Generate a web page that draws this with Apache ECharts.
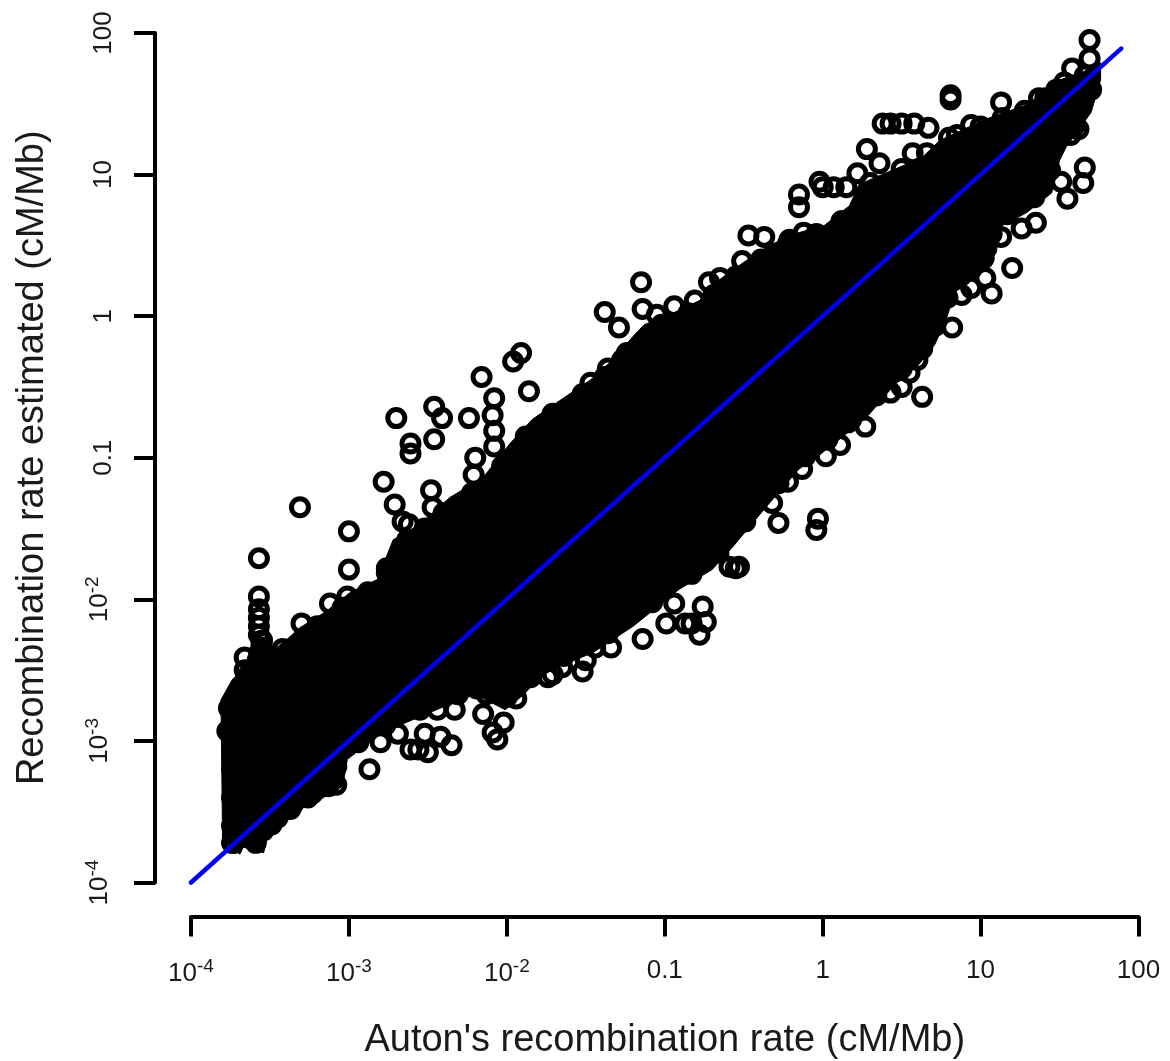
<!DOCTYPE html>
<html>
<head>
<meta charset="utf-8">
<style>html,body{margin:0;padding:0;background:#fff}#c{width:1170px;height:1061px}</style>
<script src="https://cdn.jsdelivr.net/npm/echarts@6/dist/echarts.min.js"></script>
</head>
<body>
<div id="c"></div>
<script>
// All values, as log10(cM/Mb) pairs [Auton, estimated].
const xTitle = "Auton's recombination rate (cM/Mb)";
const yTitle = "Recombination rate estimated (cM/Mb)";

// upper edge of the solid cloud, left to right
const cloudUpper = [[-3.80,-3.70],[-3.81,-2.71],[-3.74,-2.57],[-3.66,-2.48],[-3.62,-2.33],[-3.62,-2.27],[-3.50,-2.27],[-3.48,-2.36],[-3.40,-2.29],[-3.31,-2.20],[-3.15,-2.09],[-2.99,-1.95],[-2.82,-1.86],[-2.77,-1.72],[-2.72,-1.58],[-2.61,-1.51],[-2.50,-1.42],[-2.36,-1.28],[-2.15,-1.14],[-1.98,-0.90],[-1.84,-0.73],[-1.63,-0.57],[-1.47,-0.45],[-1.34,-0.32],[-1.19,-0.13],[-1.13,-0.06],[-0.97,0.01],[-0.78,0.11],[-0.65,0.26],[-0.50,0.38],[-0.34,0.50],[-0.15,0.59],[0.01,0.64],[0.17,0.78],[0.23,0.93],[0.44,1.03],[0.63,1.12],[0.74,1.24],[1.03,1.39],[1.31,1.50],[1.45,1.65],[1.64,1.72],[1.76,1.79]];
// lower edge of the solid cloud, right to left
const cloudLower = [[1.76,1.67],[1.70,1.44],[1.54,1.19],[1.50,1.10],[1.45,0.87],[1.29,0.73],[1.12,0.63],[1.10,0.45],[0.99,0.28],[0.85,0.21],[0.78,-0.03],[0.71,-0.20],[0.61,-0.34],[0.45,-0.49],[0.29,-0.70],[0.14,-0.84],[-0.02,-0.98],[-0.15,-1.08],[-0.36,-1.35],[-0.57,-1.63],[-0.70,-1.79],[-0.91,-1.93],[-1.20,-2.19],[-1.46,-2.38],[-1.76,-2.51],[-1.89,-2.67],[-2.01,-2.78],[-2.20,-2.67],[-2.36,-2.74],[-2.68,-2.89],[-2.81,-2.96],[-3.01,-3.13],[-3.04,-3.32],[-3.16,-3.40],[-3.29,-3.47],[-3.39,-3.56],[-3.52,-3.70],[-3.54,-3.79],[-3.67,-3.75],[-3.69,-3.80]];
// points just inside the edge of the cloud
const edgeUpper = [[-3.74,-3.72],[-3.74,-3.6],[-3.74,-3.4],[-3.74,-3.2],[-3.74,-3.0],[-3.74,-2.8],[-3.72,-2.70],[-3.65,-2.55],[-3.42,-2.35],[-3.57,-2.13],[-3.57,-2.25],[-3.20,-2.19],[-3.04,-2.06],[-2.88,-1.95],[-2.76,-1.81],[-2.63,-1.58],[-2.52,-1.50],[-2.40,-1.39],[-2.22,-1.25],[-2.03,-1.06],[-1.88,-0.85],[-1.71,-0.69],[-1.52,-0.55],[-1.38,-0.43],[-1.24,-0.26],[-1.02,-0.06],[-0.85,0.02],[-0.69,0.15],[-0.55,0.28],[-0.39,0.40],[-0.22,0.51],[-0.04,0.58],[0.12,0.67],[0.30,0.94],[0.50,1.04],[0.66,1.15],[0.85,1.28],[1.00,1.34],[1.14,1.40],[1.28,1.45],[1.41,1.54],[1.53,1.65],[1.66,1.70]];
const edgeLower = [[1.70,1.60],[1.60,1.35],[1.44,1.03],[1.34,0.84],[1.17,0.72],[1.07,0.58],[1.02,0.41],[0.88,0.29],[0.79,0.13],[0.71,-0.07],[0.63,-0.23],[0.50,-0.37],[0.34,-0.56],[0.18,-0.73],[0.03,-0.87],[-0.11,-0.99],[-0.28,-1.18],[-0.49,-1.45],[-0.66,-1.67],[-0.83,-1.82],[-1.08,-2.02],[-1.36,-2.24],[-1.64,-2.40],[-1.85,-2.55],[-2.00,-2.69],[-2.13,-2.67],[-2.31,-2.67],[-2.55,-2.78],[-2.77,-2.89],[-2.94,-3.01],[-3.08,-3.18],[-3.13,-3.32],[-3.26,-3.40],[-3.37,-3.48],[-3.49,-3.59]];
// points above the cloud
const pointsAbove = [[-3.57,-1.71],[-3.57,-1.98],[-3.57,-2.07],[-3.57,-2.19],[-3.55,-2.29],[-3.66,-2.41],[-3.66,-2.50],[-3.76,-2.77],[-3.77,-2.93],[-3.30,-2.17],[-3.12,-2.03],[-3.01,-1.98],[-3.00,-1.79],[-3.00,-1.52],[-3.31,-1.35],[-2.90,-1.99],[-2.76,-1.78],[-2.70,-0.72],[-2.46,-0.64],[-2.41,-0.72],[-2.24,-0.72],[-2.16,-0.43],[-2.08,-0.58],[-2.09,-0.70],[-2.08,-0.81],[-2.08,-0.92],[-2.46,-0.87],[-2.61,-0.90],[-2.61,-0.97],[-2.20,-1.00],[-2.21,-1.12],[-2.78,-1.17],[-2.48,-1.23],[-2.47,-1.35],[-2.71,-1.33],[-2.66,-1.45],[-2.62,-1.47],[-1.96,-0.32],[-1.91,-0.26],[-1.86,-0.53],[-1.47,-0.47],[-1.36,-0.37],[-1.27,-0.31],[-1.38,0.03],[-1.29,-0.08],[-1.15,0.24],[-1.14,0.05],[-1.05,0.01],[-0.94,0.07],[-0.81,0.11],[-0.72,0.24],[-0.65,0.27],[-0.51,0.39],[-0.47,0.57],[-0.37,0.56],[-0.21,0.54],[-0.12,0.59],[-0.15,0.86],[-0.15,0.77],[0.00,0.91],[0.15,0.91],[0.07,0.91],[0.12,0.67],[-0.02,0.95],[0.22,1.01],[0.28,1.18],[0.36,1.08],[0.57,1.15],[0.38,1.36],[0.50,1.36],[0.58,1.36],[0.67,1.33],[0.43,1.36],[0.81,1.56],[0.81,1.53],[1.13,1.51],[0.94,1.35],[0.80,1.26],[1.37,1.54],[1.48,1.60],[1.58,1.75],[1.69,1.82],[1.69,1.95]];
// points below the cloud
const pointsBelow = [[1.66,1.05],[1.65,0.94],[1.55,0.83],[1.51,0.95],[1.62,1.32],[1.57,1.28],[1.35,0.66],[1.26,0.62],[1.13,0.56],[1.20,0.34],[1.03,0.27],[1.07,0.16],[0.94,0.20],[0.88,0.15],[0.94,0.37],[0.82,-0.08],[0.63,-0.57],[0.55,-0.40],[0.63,-0.22],[0.60,-0.31],[0.50,-0.50],[0.43,-0.54],[0.27,-0.78],[0.16,-0.75],[0.11,-0.91],[0.02,-0.99],[-0.13,-1.08],[-0.28,-1.46],[-0.03,-1.43],[-0.04,-1.51],[-0.32,-1.32],[-0.22,-1.17],[-0.59,-1.77],[-0.53,-1.77],[-0.55,-1.78],[-0.76,-2.05],[-0.74,-2.16],[-0.78,-2.25],[-0.87,-2.17],[-0.83,-2.17],[-0.99,-2.17],[-1.14,-2.28],[-0.94,-2.03],[-1.34,-2.34],[-1.44,-2.34],[-1.52,-2.51],[-1.50,-2.43],[-1.71,-2.53],[-1.77,-2.45],[-1.65,-2.48],[-1.94,-2.70],[-1.74,-2.55],[-2.06,-2.99],[-2.09,-2.94],[-2.02,-2.87],[-2.15,-2.81],[-2.19,-2.63],[-2.33,-2.78],[-2.44,-2.78],[-2.35,-3.03],[-2.42,-2.97],[-2.50,-3.08],[-2.56,-3.06],[-2.61,-3.06],[-2.52,-2.95],[-2.69,-2.95],[-2.80,-3.01],[-2.87,-3.20],[-3.08,-3.31],[-3.23,-3.37],[-3.35,-3.44],[-3.45,-3.54],[-3.54,-3.63],[-3.59,-3.72],[-3.73,-3.72]];
// y = x reference line end points
const identityLine = [[-4,-4],[1.89,1.89]];

const toValues = list => list.map(p => [Math.pow(10, p[0]), Math.pow(10, p[1])]);
const FONT = '"Liberation Sans", Arial, sans-serif';

function tickLabel(v) {
  const e = Math.round(Math.log10(v));
  if (e === -1) return '{b|0.1}';
  if (e >= 0) return '{b|' + Math.pow(10, e) + '}';
  return '{b|10}{s|' + e + '}';
}
const rich = {
  b: { fontFamily: FONT, fontSize: 26, color: '#1a1a1a' },
  s: { fontFamily: FONT, fontSize: 19, color: '#1a1a1a', padding: [0, 0, 14, 0] }
};
const axisCommon = {
  type: 'log', logBase: 10, min: 1e-4, max: 100, splitNumber: 6,
  nameLocation: 'middle',
  nameTextStyle: { fontFamily: FONT, fontSize: 38, color: '#1a1a1a' },
  axisLine: { show: true, onZero: false, lineStyle: { color: '#000', width: 4 } },
  minorTick: { show: false }, splitLine: { show: false }, minorSplitLine: { show: false }
};

const chart = echarts.init(document.getElementById('c'), null, { renderer: 'canvas' });
chart.setOption({
  animation: false,
  backgroundColor: '#fff',
  grid: { left: 191, right: 31.5, top: 33, bottom: 178.5, containLabel: false, outerBoundsMode: 'none' },
  xAxis: Object.assign({}, axisCommon, {
    name: xTitle, nameGap: 105, position: 'bottom', offset: 34,
    axisTick: { show: true, length: 20, lineStyle: { color: '#000', width: 4 } },
    axisLabel: { formatter: tickLabel, rich, margin: 41, hideOverlap: false, showMinLabel: true, showMaxLabel: true }
  }),
  yAxis: Object.assign({}, axisCommon, {
    name: yTitle, nameGap: 103.5, position: 'left', offset: 36,
    axisTick: { show: true, length: 21, lineStyle: { color: '#000', width: 4 } },
    axisLabel: { formatter: tickLabel, rich, rotate: 90, margin: 38.5, hideOverlap: false, showMinLabel: true, showMaxLabel: true }
  }),
  series: [
    {
      type: 'custom', silent: true, clip: false, z: 2,
      data: toValues(cloudUpper.concat(cloudLower)),
      encode: { x: 0, y: 1 },
      renderItem: function (params, api) {
        if (params.dataIndex !== 0) return null;
        const pts = toValues(cloudUpper.concat(cloudLower)).map(p => api.coord(p));
        return { type: 'polygon', shape: { points: pts }, style: { fill: '#000', stroke: '#000', lineWidth: 1 } };
      }
    },
    {
      type: 'scatter', silent: true, clip: false, z: 3,
      symbol: 'circle', symbolSize: 17,
      data: toValues(edgeUpper.concat(edgeLower, pointsAbove, pointsBelow)),
      itemStyle: { color: 'rgba(0,0,0,0)', borderColor: '#000', borderWidth: 5, opacity: 1 }
    },
    {
      type: 'line', silent: true, clip: false, z: 4,
      symbol: 'none',
      data: toValues(identityLine),
      lineStyle: { color: '#0000f0', width: 4.5, cap: 'round' }
    }
  ]
});
</script>
</body>
</html>
